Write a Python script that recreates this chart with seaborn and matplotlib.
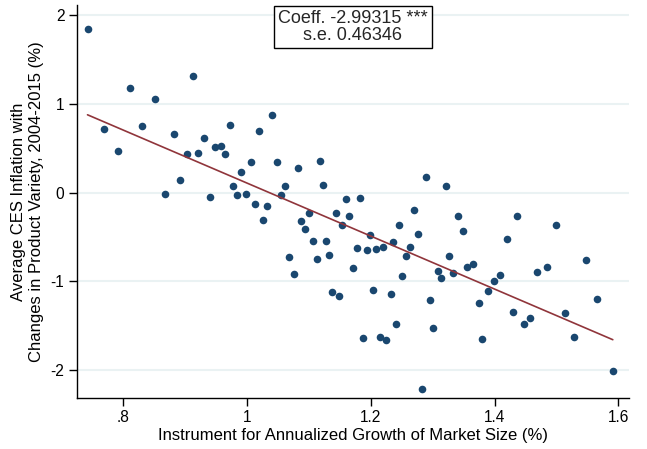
import matplotlib
matplotlib.use("Agg")
import matplotlib.pyplot as plt
import seaborn as sns
import pandas as pd

# Data
instrument = [
    0.742, 0.912, 0.811, 0.851, 0.769, 0.830, 0.972, 1.019, 1.040, 0.881,
    0.930, 0.792, 0.902, 0.920, 0.948, 0.957, 0.965, 1.006, 0.990, 0.892,
    0.977, 0.867, 0.940, 0.984, 0.998, 1.049, 1.082, 1.117, 1.062, 1.122,
    1.055, 1.160, 1.183, 1.289, 1.321, 1.013, 1.032, 1.026, 1.100, 1.144,
    1.165, 1.087, 1.093, 1.154, 1.270, 1.246, 1.340, 1.349, 1.198, 1.276,
    1.107, 1.128, 1.235, 1.177, 1.193, 1.209, 1.219, 1.264, 1.257, 1.068,
    1.113, 1.133, 1.326, 1.171, 1.075, 1.250, 1.309, 1.314, 1.332, 1.137,
    1.148, 1.203, 1.232, 1.295, 1.241, 1.301, 1.188, 1.214, 1.225, 1.282,
    1.436, 1.499, 1.420, 1.356, 1.365, 1.547, 1.484, 1.469, 1.408, 1.399,
    1.389, 1.374, 1.566, 1.429, 1.514, 1.457, 1.448, 1.528, 1.380, 1.591,
]
inflation = [
    1.84, 1.31, 1.18, 1.06, 0.72, 0.75, 0.76, 0.70, 0.87, 0.66,
    0.62, 0.47, 0.44, 0.45, 0.51, 0.53, 0.43, 0.35, 0.23, 0.14,
    0.08, -0.02, -0.05, -0.03, -0.01, 0.34, 0.28, 0.36, 0.07, 0.09,
    -0.03, -0.07, -0.06, 0.18, 0.07, -0.13, -0.15, -0.31, -0.23, -0.23,
    -0.26, -0.32, -0.41, -0.36, -0.20, -0.36, -0.26, -0.43, -0.48, -0.47,
    -0.54, -0.55, -0.56, -0.62, -0.65, -0.64, -0.61, -0.61, -0.71, -0.72,
    -0.75, -0.70, -0.71, -0.85, -0.92, -0.94, -0.88, -0.96, -0.91, -1.12,
    -1.17, -1.10, -1.14, -1.21, -1.48, -1.53, -1.64, -1.63, -1.66, -2.21,
    -0.26, -0.36, -0.52, -0.84, -0.81, -0.76, -0.84, -0.90, -0.93, -1.00,
    -1.11, -1.24, -1.20, -1.34, -1.36, -1.41, -1.48, -1.63, -1.65, -2.01,
]
x_ticks = [0.8, 1.0, 1.2, 1.4, 1.6]
x_tick_labels = [".8", "1", "1.2", "1.4", "1.6"]
y_ticks = [-2, -1, 0, 1, 2]
y_tick_labels = ["-2", "-1", "0", "1", "2"]
annotation = "Coeff. -2.99315 ***\ns.e. 0.46346"
x_label = "Instrument for Annualized Growth of Market Size (%)"
y_label = "Average CES Inflation with\nChanges in Product Variety, 2004-2015 (%)"

df = pd.DataFrame({"x": instrument, "y": inflation})

sns.set_theme(style="white")
plt.rcParams["font.family"] = ["Liberation Sans", "DejaVu Sans"]

fig = plt.figure(figsize=(6.47, 4.49), dpi=100)
ax = fig.add_axes([0.119, 0.1136, 0.853, 0.8754])

for yv in y_ticks:
    ax.axhline(yv, color="#eaf2f3", lw=1.5, zorder=0)

sns.regplot(data=df, x="x", y="y", ax=ax, ci=None, truncate=True,
            scatter_kws=dict(s=30, color="#1a476f", linewidths=0, alpha=1, zorder=3),
            line_kws=dict(color="#90353b", lw=1.2, zorder=4))

ax.set_xlim(0.725, 1.617)
ax.set_ylim(-2.315, 2.116)
ax.set_xticks(x_ticks)
ax.set_xticklabels(x_tick_labels)
ax.set_yticks(y_ticks)
ax.set_yticklabels(y_tick_labels)
ax.tick_params(axis="both", direction="out", length=6, width=1, color="black",
               labelsize=11.2, labelcolor="black", pad=3, bottom=True, left=True)
ax.set_xlabel(x_label, fontsize=12, color="black", labelpad=2)
ax.set_ylabel(y_label, fontsize=12, color="black", labelpad=5)

for s in ["top", "right"]:
    ax.spines[s].set_visible(False)
for s in ["left", "bottom"]:
    ax.spines[s].set_color("black")
    ax.spines[s].set_linewidth(1)

ax.text(0.5, 0.986, annotation, transform=ax.transAxes, ha="center", va="top",
        fontsize=13, linespacing=0.95, multialignment="center",
        bbox=dict(boxstyle="square,pad=0.25", facecolor="white", edgecolor="black", lw=1),
        zorder=10)

fig.savefig("out.png", dpi=100, facecolor="white")
